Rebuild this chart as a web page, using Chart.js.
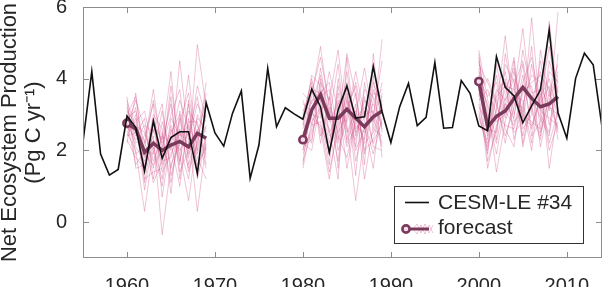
<!DOCTYPE html>
<html>
<head>
<meta charset="utf-8">
<script src="https://cdn.jsdelivr.net/npm/chart.js@4.4.0/dist/chart.umd.min.js"></script>
<style>
  html, body { margin: 0; padding: 0; background: #fff; }
  #wrap { width: 603px; height: 287px; position: relative; }
</style>
</head>
<body>
<div id="wrap"><canvas id="nep"></canvas></div>
<script>
// CESM-LE member #34, annual net ecosystem production (Pg C / yr)
var years = [1955, 1956, 1957, 1958, 1959, 1960, 1961, 1962, 1963, 1964,
             1965, 1966, 1967, 1968, 1969, 1970, 1971, 1972, 1973, 1974,
             1975, 1976, 1977, 1978, 1979, 1980, 1981, 1982, 1983, 1984,
             1985, 1986, 1987, 1988, 1989, 1990, 1991, 1992, 1993, 1994,
             1995, 1996, 1997, 1998, 1999, 2000, 2001, 2002, 2003, 2004,
             2005, 2006, 2007, 2008, 2009, 2010, 2011, 2012, 2013, 2014];
var cesmValues = [2.24, 4.20, 1.90, 1.31, 1.47, 2.96, 2.64, 1.43, 2.82, 1.78,
                  2.36, 2.52, 2.52, 1.36, 3.33, 2.49, 2.12, 3.04, 3.66, 1.22,
                  2.15, 4.29, 2.66, 3.19, 3.02, 2.87, 3.71, 3.22, 1.94, 3.13,
                  3.80, 2.90, 2.94, 4.34, 3.08, 2.22, 3.22, 3.87, 2.69, 2.92,
                  4.45, 2.62, 2.64, 3.95, 3.59, 2.68, 2.55, 4.62, 3.76, 3.52,
                  2.77, 3.24, 3.69, 5.36, 3.05, 2.34, 4.01, 4.71, 4.39, 2.66];

// forecast windows
var win1Years = [1960, 1961, 1962, 1963, 1964, 1965, 1966, 1967, 1968, 1969];
var win2Years = [1980, 1981, 1982, 1983, 1984, 1985, 1986, 1987, 1988, 1989];
var win3Years = [2000, 2001, 2002, 2003, 2004, 2005, 2006, 2007, 2008, 2009];

// ensemble mean forecasts
var forecast1 = [2.76, 2.60, 1.95, 2.20, 2.00, 2.15, 2.25, 2.10, 2.48, 2.34];
var forecast2 = [2.30, 3.13, 3.55, 2.90, 2.90, 3.15, 2.90, 2.66, 2.94, 3.10];
var forecast3 = [3.92, 2.65, 2.95, 3.10, 3.45, 3.76, 3.45, 3.22, 3.30, 3.50];

// individual forecast members
var members1 = [
  [2.9, 3.1, 2.2, 3.7, 1.9, 2.5, 3.0, 1.8, 2.9, 2.6],
  [2.5, 2.0, 0.3, 2.1, 1.2, 2.9, 2.4, 2.7, 1.6, 2.1],
  [3.4, 2.6, 1.8, 2.4, -0.35, 1.6, 2.2, 3.1, 2.7, 1.9],
  [2.7, 3.4, 2.6, 1.5, 2.8, 2.0, 4.5, 2.3, 3.3, 2.8],
  [2.3, 1.8, 1.5, 2.9, 2.2, 3.3, 1.4, 2.0, 4.95, 3.2],
  [3.0, 2.4, 2.9, 1.2, 2.5, 1.1, 2.6, 1.5, 2.2, 3.6],
  [2.6, 3.2, 1.1, 2.6, 1.6, 2.7, 1.9, 0.6, 2.4, 1.5],
  [3.2, 2.2, 2.4, 3.3, 0.7, 2.3, 3.4, 2.6, 0.3, 2.2],
  [2.8, 1.6, 2.0, 1.9, 3.1, 1.5, 2.8, 3.6, 2.0, 3.0],
  [2.4, 2.9, 0.9, 2.3, 1.8, 3.8, 2.1, 1.2, 3.0, 2.5],
  [3.1, 2.7, 2.5, 1.7, 2.4, 2.2, 1.0, 2.9, 1.8, 1.2],
  [2.2, 3.6, 1.4, 2.8, 1.4, 1.9, 2.5, 2.2, 3.8, 2.9],
  [2.9, 2.1, 1.7, 3.0, 2.6, 0.8, 3.1, 1.9, 2.6, 1.8],
  [2.6, 2.8, 3.1, 2.0, 1.0, 2.6, 1.7, 3.3, 1.4, 2.4],
  [3.3, 1.9, 2.1, 3.4, 2.1, 3.0, 3.7, 1.6, 2.5, 3.3],
  [2.5, 3.0, 1.2, 1.4, 1.5, 2.4, 2.0, 2.5, 3.5, 2.0],
  [2.7, 2.3, 2.7, 2.5, 3.3, 1.3, 2.3, 4.1, 1.9, 2.7],
  [3.0, 3.5, 1.9, 1.6, 2.0, 3.5, 1.2, 2.8, 2.8, 1.6],
  [2.4, 2.5, 2.3, 1.1, 1.7, 1.8, 2.9, 1.4, 2.1, 3.9],
  [3.5, 1.5, 1.6, 2.7, 2.3, 4.2, 1.6, 3.4, 1.2, 2.3]
];
var members2 = [
  [2.4, 3.5, 4.9, 3.1, 2.2, 3.4, 2.6, 2.9, 3.3, 2.7],
  [1.5, 2.8, 3.2, 1.9, 3.8, 2.5, 3.1, 2.2, 2.5, 3.4],
  [2.9, 4.0, 3.0, 2.6, 1.2, 4.6, 2.4, 3.5, 2.1, 2.0],
  [2.1, 2.3, 3.9, 3.4, 4.8, 2.7, 0.6, 2.4, 3.7, 3.0],
  [3.3, 3.1, 2.6, 1.2, 2.9, 3.2, 3.8, 1.6, 4.7, 2.5],
  [2.6, 3.7, 3.6, 3.9, 2.4, 1.8, 2.9, 3.2, 2.8, 5.1],
  [1.9, 2.6, 4.3, 2.8, 3.3, 3.7, 1.7, 2.7, 1.5, 3.6],
  [3.0, 3.9, 2.2, 3.5, 2.0, 2.9, 4.2, 3.0, 3.1, 2.2],
  [2.2, 2.0, 3.4, 2.2, 3.6, 2.3, 3.3, 1.2, 2.7, 3.9],
  [3.6, 3.3, 4.1, 3.0, 1.7, 3.9, 2.1, 3.7, 3.5, 2.6],
  [2.0, 3.0, 2.9, 4.2, 3.1, 2.1, 2.7, 2.5, 4.1, 1.8],
  [2.7, 4.1, 3.8, 2.4, 2.7, 4.7, 3.5, 2.0, 2.3, 3.3],
  [1.7, 2.5, 3.1, 1.6, 4.0, 2.6, 2.3, 3.4, 3.0, 4.5],
  [3.1, 3.6, 4.6, 3.3, 2.5, 3.0, 3.9, 2.8, 1.9, 2.9],
  [2.5, 2.9, 2.7, 2.0, 3.4, 1.5, 2.8, 2.3, 3.9, 3.2],
  [2.3, 3.4, 3.5, 3.7, 1.5, 3.5, 1.3, 3.9, 2.6, 2.4],
  [2.8, 2.2, 4.0, 2.5, 3.0, 2.8, 3.6, 1.9, 3.4, 3.7],
  [1.6, 3.8, 2.4, 3.2, 2.3, 4.2, 2.5, 3.1, 2.2, 2.8],
  [2.0, 3.2, 3.7, 2.9, 4.4, 2.2, 3.0, 4.3, 2.9, 2.1],
  [3.4, 2.7, 2.8, 1.4, 2.6, 3.6, 2.0, 2.6, 3.6, 3.5]
];
var members3 = [
  [4.7, 2.4, 3.1, 5.2, 3.0, 4.1, 2.6, 3.5, 4.0, 2.9],
  [3.6, 1.5, 2.7, 3.3, 4.2, 2.9, 5.7, 3.0, 2.5, 3.8],
  [4.2, 3.2, 1.4, 2.8, 3.6, 5.4, 3.2, 2.4, 3.6, 4.4],
  [3.3, 2.1, 3.6, 4.0, 2.3, 3.3, 4.1, 3.9, 1.5, 3.2],
  [3.9, 2.9, 2.2, 3.5, 4.6, 2.6, 3.0, 4.5, 3.1, 5.85],
  [4.4, 3.9, 3.3, 2.4, 3.2, 4.4, 2.4, 2.8, 5.6, 3.4],
  [3.1, 1.9, 4.4, 3.1, 2.7, 3.7, 3.8, 2.1, 3.3, 2.6],
  [3.7, 2.6, 2.5, 4.4, 3.9, 2.2, 3.4, 4.2, 2.7, 4.0],
  [4.0, 3.5, 3.9, 2.6, 2.1, 3.9, 4.6, 3.3, 3.8, 2.3],
  [2.9, 2.2, 2.9, 3.7, 4.3, 3.0, 2.8, 2.6, 4.5, 3.6],
  [4.5, 3.0, 1.9, 3.3, 2.9, 4.8, 3.6, 3.7, 2.2, 3.1],
  [3.5, 4.0, 3.4, 2.2, 3.5, 3.4, 2.2, 4.8, 3.5, 4.2],
  [4.1, 1.7, 2.6, 3.9, 2.5, 2.8, 4.4, 3.1, 2.9, 2.7],
  [3.2, 2.8, 4.1, 2.9, 3.8, 4.5, 3.1, 2.3, 4.2, 3.9],
  [3.8, 3.3, 2.3, 4.7, 3.3, 3.2, 2.0, 3.8, 3.2, 3.0],
  [4.3, 2.5, 3.7, 3.4, 4.0, 2.4, 3.5, 2.9, 2.4, 4.7],
  [3.4, 3.7, 3.0, 2.7, 2.6, 3.6, 3.9, 4.1, 3.7, 2.5],
  [4.6, 2.3, 3.5, 3.8, 3.7, 2.9, 2.7, 3.4, 4.9, 3.3],
  [3.0, 2.0, 3.2, 4.2, 2.8, 3.1, 4.9, 2.5, 3.4, 4.1],
  [4.8, 3.4, 2.8, 3.0, 4.5, 2.1, 3.3, 3.6, 2.0, 2.8]
];

var xTickValues = [1960, 1970, 1980, 1990, 2000, 2010];
var yTickValues = [0, 2, 4, 6];

var mauve = 'rgb(122, 58, 92)';
var pink = 'rgba(205, 70, 130, 0.36)';
var textColor = '#262626';
var axisColor = '#8c8c8c';

Chart.defaults.font.family = '"Liberation Sans", Arial, Helvetica, sans-serif';
Chart.defaults.font.size = 20;
Chart.defaults.color = textColor;

function toPoints(xs, ys) {
  return xs.map(function (x, i) { return { x: x, y: ys[i] }; });
}

var datasets = [];

datasets.push({
  label: 'CESM-LE #34',
  data: toPoints(years, cesmValues),
  borderColor: '#111',
  borderWidth: 1.6,
  pointRadius: 0,
  tension: 0
});

[[win1Years, forecast1], [win2Years, forecast2], [win3Years, forecast3]].forEach(function (w) {
  datasets.push({
    label: 'forecast',
    data: toPoints(w[0], w[1]),
    borderColor: mauve,
    borderWidth: 3.5,
    pointRadius: function (c) { return c.dataIndex === 0 ? 3.6 : 0; },
    pointBorderWidth: 2.6,
    pointBorderColor: mauve,
    pointBackgroundColor: '#f4dde8',
    tension: 0
  });
});

[[win1Years, members1], [win2Years, members2], [win3Years, members3]].forEach(function (w) {
  w[1].forEach(function (m) {
    datasets.push({
      label: 'member',
      data: toPoints(w[0], m),
      borderColor: pink,
      borderWidth: 0.9,
      pointRadius: 0,
      tension: 0
    });
  });
});

// axes box with inward ticks, like the original figure
var frame = {
  id: 'frame',
  afterDraw: function (chart) {
    var ctx = chart.ctx, a = chart.chartArea;
    var xs = chart.scales.x, ys = chart.scales.y;
    var len = 6;
    ctx.save();
    ctx.strokeStyle = axisColor;
    ctx.lineWidth = 1;
    ctx.strokeRect(Math.round(a.left) + 0.5, Math.round(a.top) + 0.5,
                   Math.round(a.right - a.left) - 1, Math.round(a.bottom - a.top) - 1);
    ctx.beginPath();
    xs.ticks.forEach(function (t) {
      var px = Math.round(xs.getPixelForValue(t.value)) + 0.5;
      ctx.moveTo(px, a.bottom); ctx.lineTo(px, a.bottom - len);
      ctx.moveTo(px, a.top); ctx.lineTo(px, a.top + len);
    });
    ys.ticks.forEach(function (t) {
      var py = Math.round(ys.getPixelForValue(t.value)) + 0.5;
      ctx.moveTo(a.left, py); ctx.lineTo(a.left + len, py);
      ctx.moveTo(a.right, py); ctx.lineTo(a.right - len, py);
    });
    ctx.stroke();
    ctx.restore();
  }
};

// legend box drawn inside the plot area (lower right)
var insideLegend = {
  id: 'insideLegend',
  afterDraw: function (chart) {
    var ctx = chart.ctx, a = chart.chartArea;
    var bx = a.right - 208, by = a.bottom - 72, bw = 189, bh = 57;
    ctx.save();
    ctx.fillStyle = '#fff';
    ctx.fillRect(bx, by, bw, bh);
    ctx.strokeStyle = '#333';
    ctx.lineWidth = 1;
    ctx.strokeRect(Math.round(bx) + 0.5, Math.round(by) + 0.5, bw, bh);

    var r1 = by + 16.5, r2 = by + 43;
    var sx0 = bx + 11, sx1 = bx + 35;
    // row 1: black line
    ctx.strokeStyle = '#111';
    ctx.lineWidth = 1.6;
    ctx.beginPath(); ctx.moveTo(sx0, r1); ctx.lineTo(sx1, r1); ctx.stroke();
    // row 2: pink members sample, mauve line, circle
    ctx.strokeStyle = pink;
    ctx.lineWidth = 0.9;
    ctx.beginPath();
    ctx.moveTo(sx0 + 8, r2); ctx.lineTo(sx0 + 12, r2 - 5); ctx.lineTo(sx0 + 16, r2 + 4);
    ctx.lineTo(sx0 + 20, r2 - 5); ctx.lineTo(sx0 + 24, r2 + 4); ctx.lineTo(sx0 + 28, r2 - 4);
    ctx.moveTo(sx0 + 8, r2); ctx.lineTo(sx0 + 12, r2 + 5); ctx.lineTo(sx0 + 16, r2 - 4);
    ctx.lineTo(sx0 + 20, r2 + 5); ctx.lineTo(sx0 + 24, r2 - 4); ctx.lineTo(sx0 + 28, r2 + 4);
    ctx.stroke();
    ctx.strokeStyle = mauve;
    ctx.lineWidth = 3;
    ctx.beginPath(); ctx.moveTo(sx0, r2); ctx.lineTo(sx1, r2); ctx.stroke();
    ctx.fillStyle = '#f4dde8';
    ctx.lineWidth = 2.6;
    ctx.beginPath(); ctx.arc(sx0 + 1, r2, 3.6, 0, Math.PI * 2); ctx.fill(); ctx.stroke();

    ctx.fillStyle = textColor;
    ctx.font = '21px "Liberation Sans", Arial, sans-serif';
    ctx.textBaseline = 'middle';
    ctx.textAlign = 'left';
    ctx.fillText('CESM-LE #34', bx + 44, r1 + 1);
    ctx.fillText('forecast', bx + 44, r2 - 1);
    ctx.restore();
  }
};

new Chart(document.getElementById('nep'), {
  type: 'line',
  data: { datasets: datasets },
  options: {
    responsive: true,
    maintainAspectRatio: false,
    animation: false,
    parsing: true,
    layout: { autoPadding: false, padding: { top: 7, right: 1, left: 0, bottom: 0 } },
    plugins: {
      legend: { display: false },
      tooltip: { enabled: false }
    },
    scales: {
      x: {
        type: 'linear',
        min: 1955,
        max: 2014,
        afterBuildTicks: function (s) { s.ticks = xTickValues.map(function (v) { return { value: v }; }); },
        afterFit: function (s) { s.height = 29; s.paddingLeft = 0; s.paddingRight = 0; },
        grid: { display: false },
        border: { display: false },
        ticks: { maxRotation: 0, autoSkip: false, padding: 8,
                 callback: function (v) { return String(v); } }
      },
      y: {
        min: -1,
        max: 6,
        afterBuildTicks: function (s) { s.ticks = yTickValues.map(function (v) { return { value: v }; }); },
        afterFit: function (s) { s.width = 83; s.paddingTop = 0; s.paddingBottom = 0; },
        grid: { display: false },
        border: { display: false },
        ticks: { padding: 8 },
        title: {
          display: true,
          text: ['Net Ecosystem Production', '(Pg C yr\u207B\u00B9)'],
          padding: { top: -2, bottom: 0 },
          font: { size: 22, lineHeight: 1.1 },
          color: textColor
        }
      }
    }
  },
  plugins: [frame, insideLegend]
});
</script>
</body>
</html>
